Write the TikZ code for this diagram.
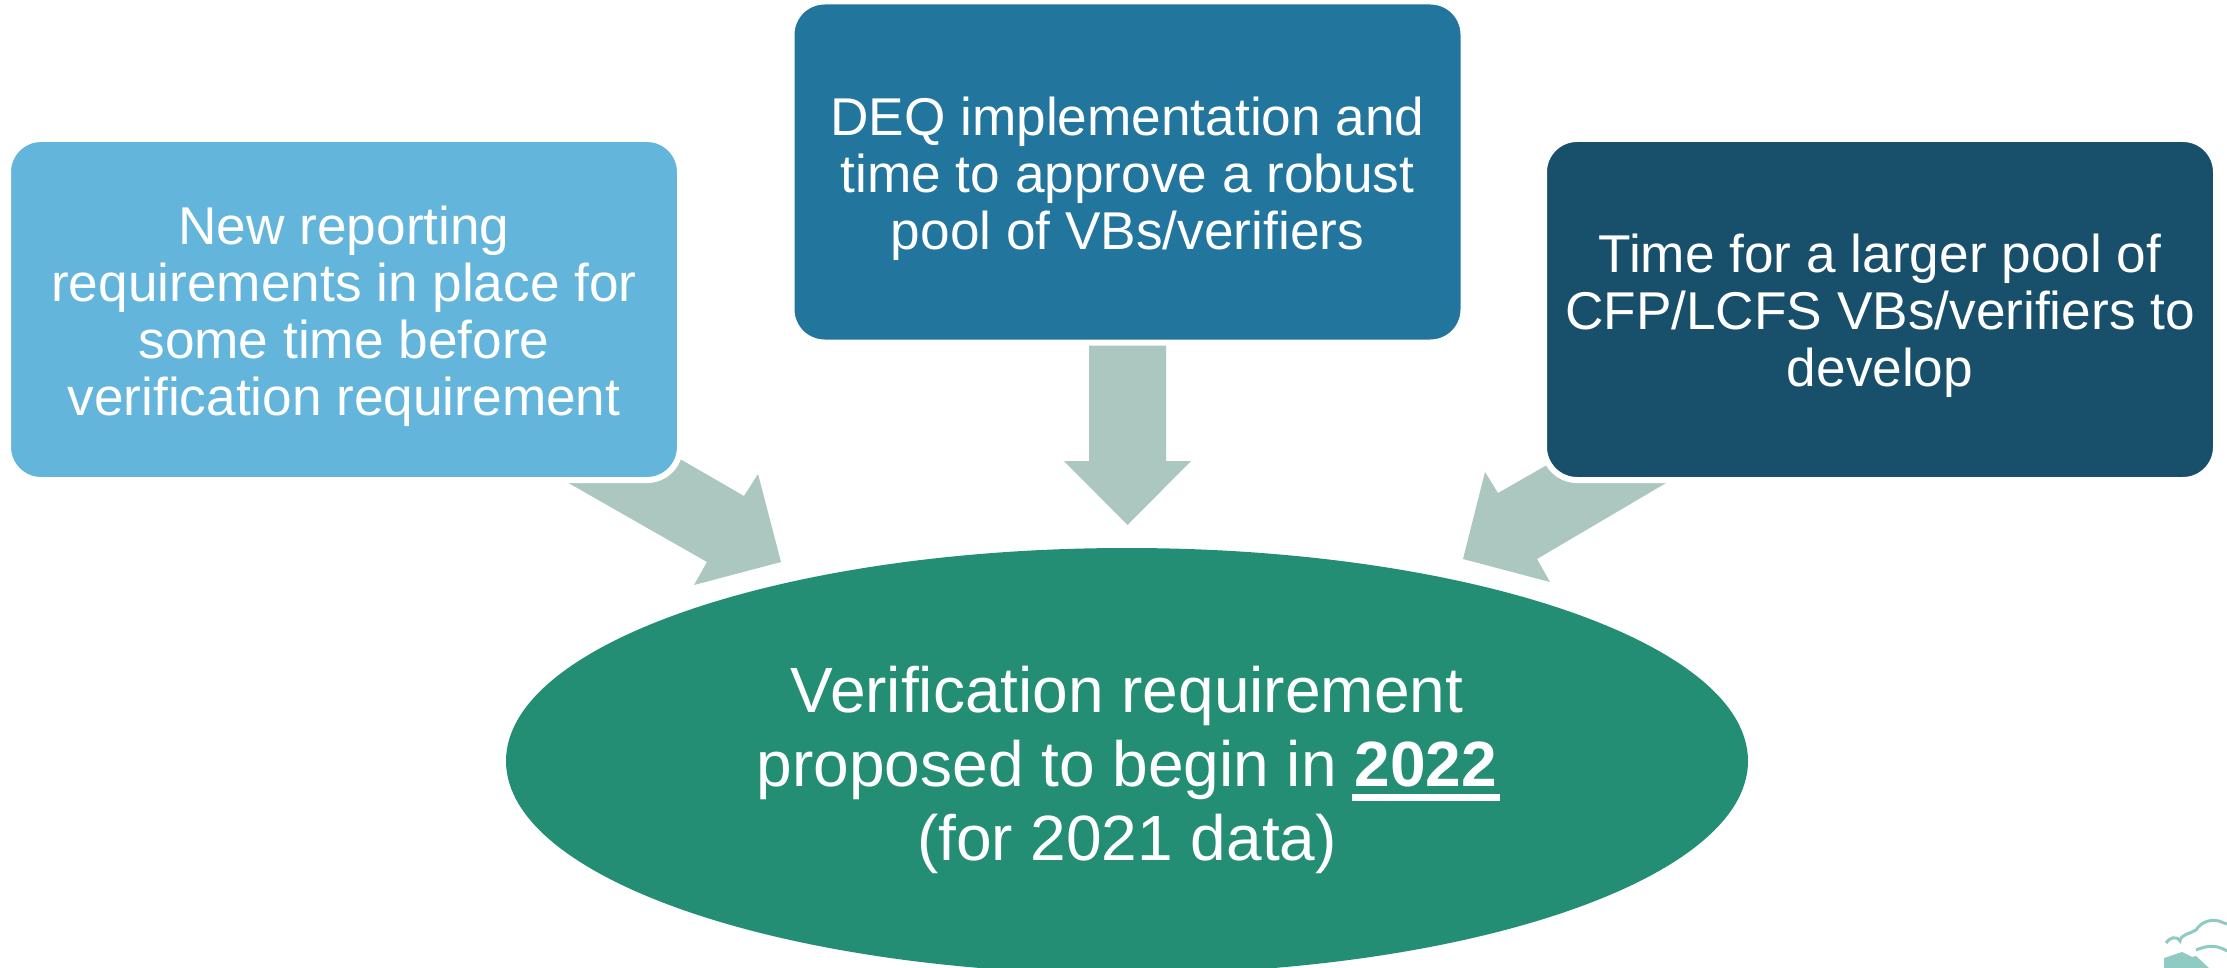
\documentclass[tikz,border=0pt]{standalone}
\usepackage{fontspec}
\setmainfont{Liberation Sans}
\usetikzlibrary{shapes.geometric}
\definecolor{boxa}{HTML}{63B5DB}
\definecolor{boxb}{HTML}{22759C}
\definecolor{boxc}{HTML}{18506B}
\definecolor{goal}{HTML}{248E75}
\definecolor{arrowfill}{HTML}{ABC7C0}
\definecolor{logo}{HTML}{90CBC3}
\newcommand\thickul[1]{\setbox0\hbox{#1}\rlap{\hspace{-3pt}\rule[-15pt]{\dimexpr\wd0+6pt\relax}{7pt}}\box0 }
\newcommand\lift[1]{\rule{0pt}{#1}}
\tikzset{
  infobox/.style={draw=white,line width=6pt,rounded corners=33pt,minimum width=672pt,minimum height=341pt,
    inner sep=0pt,align=center,text=white,font=\fontsize{53.2}{57}\selectfont},
  goalshape/.style={ellipse,fill=goal,minimum width=1242pt,minimum height=426pt,inner sep=0pt,align=center,
    text=white,font=\fontsize{64}{74}\selectfont},
  blockarrow/.style={fill=arrowfill,draw=none},
}
\begin{document}
\begin{tikzpicture}[x=1pt,y=-1pt]
\useasboundingbox (0,0) rectangle (2227,968);
\clip (0,0) rectangle (2227,968);
\fill[white] (0,0) rectangle (2227,968);
% block arrows, their tails run under the boxes
\fill[blockarrow] (616,422) -- (744,496) -- (758,474) -- (781,562) -- (694,585) -- (707,562) -- (500,444) -- cycle;
\fill[blockarrow] (1089,345) -- (1166,345) -- (1166,461) -- (1191,461) -- (1127.5,525) -- (1064,461) -- (1089,461) -- cycle;
\fill[blockarrow] (1596,437) -- (1498,493) -- (1485,472) -- (1463,559) -- (1550,582) -- (1537,559) -- (1700,463) -- cycle;
\node[infobox,fill=boxa] (left) at (344,309.5) {\lift{52pt}New reporting\\requirements in place for\\some time before\\verification requirement};
\node[infobox,fill=boxb] (mid) at (1127.5,172) {\lift{53pt}DEQ implementation and\\time to approve a robust\\pool of VBs/verifiers};
\node[infobox,fill=boxc] (right) at (1880,309.5) {\lift{52pt}Time for a larger pool of\\CFP/LCFS VBs/verifiers to\\develop};
\node[goalshape] (goal) at (1127,761) {\lift{64pt}Verification requirement\\proposed to begin in \thickul{\textbf{2022}}\\(for 2021 data)};
% logo fragment in the corner
\fill[logo] (2164,968) -- (2164,958) -- (2182,952) -- (2192,957) -- (2196,956) -- (2209,968) -- cycle;
\draw[logo,line width=3pt] (2166,943) .. controls (2169,938) and (2176,935) .. (2180,941)
  .. controls (2181,934) and (2190,934) .. (2196,930) .. controls (2201,922) and (2212,917) .. (2224,923) -- (2227,924);
\draw[logo,line width=3pt] (2196,950) .. controls (2204,947) and (2214,943) .. (2227,951);
\end{tikzpicture}
\end{document}
